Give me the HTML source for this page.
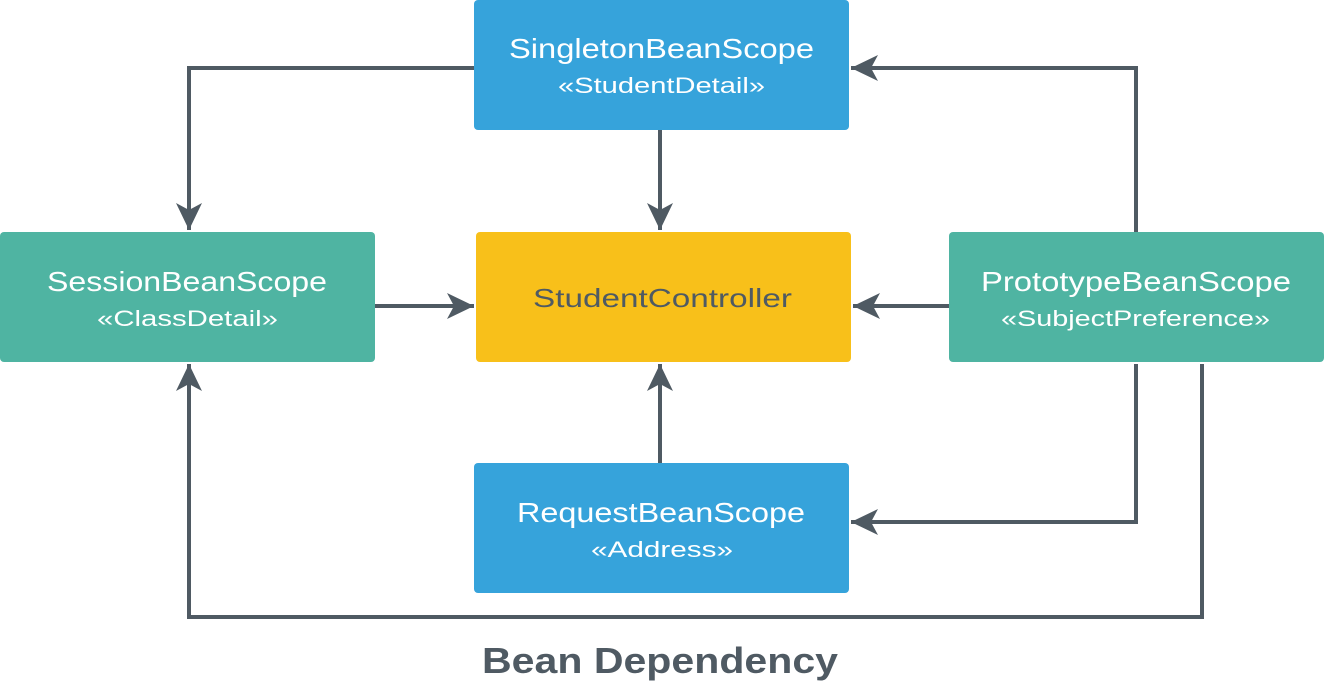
<!DOCTYPE html>
<html><head><meta charset="utf-8"><style>
body{margin:0;width:1324px;height:683px;background:#fff;overflow:hidden}
svg{display:block}
text{font-family:"Liberation Sans",sans-serif}
</style></head><body>
<svg width="1324" height="683" viewBox="0 0 1324 683">
<defs>
<marker id="a" markerUnits="userSpaceOnUse" markerWidth="30" markerHeight="30" refX="27" refY="14" orient="auto">
<path d="M27,14 L0,1 L7,14 L0,27 Z" fill="#4f5a63"/>
</marker>
</defs>
<g fill="none" stroke="#4f5a63" stroke-width="4">
<polyline points="474,68 189,68 189,230" marker-end="url(#a)"/>
<polyline points="660,130 660,230" marker-end="url(#a)"/>
<polyline points="375,306 474,306" marker-end="url(#a)"/>
<polyline points="949,306 853,306" marker-end="url(#a)"/>
<polyline points="660,463 660,364" marker-end="url(#a)"/>
<polyline points="1136,232 1136,68 851,68" marker-end="url(#a)"/>
<polyline points="1136,364 1136,522 851,522" marker-end="url(#a)"/>
<polyline points="1202,364 1202,617 189,617 189,364" marker-end="url(#a)"/>
</g>
<rect x="474" y="0" width="375" height="130" rx="4" fill="#36a3db"/>
<rect x="0" y="232" width="375" height="130" rx="4" fill="#4fb4a2"/>
<rect x="476" y="232" width="375" height="130" rx="4" fill="#f8c01a"/>
<rect x="949" y="232" width="375" height="130" rx="4" fill="#4fb4a2"/>
<rect x="474" y="463" width="375" height="130" rx="4" fill="#36a3db"/>
<g fill="#fff" lengthAdjust="spacingAndGlyphs">
<text x="509" y="58" font-size="28" textLength="305" lengthAdjust="spacingAndGlyphs">SingletonBeanScope</text>
<text x="558" y="93" font-size="22" textLength="207" lengthAdjust="spacingAndGlyphs">«StudentDetail»</text>
<text x="47" y="291" font-size="28" textLength="280" lengthAdjust="spacingAndGlyphs">SessionBeanScope</text>
<text x="97" y="326" font-size="22" textLength="181" lengthAdjust="spacingAndGlyphs">«ClassDetail»</text>
<text x="981" y="291" font-size="28" textLength="310" lengthAdjust="spacingAndGlyphs">PrototypeBeanScope</text>
<text x="1001" y="326" font-size="22" textLength="269" lengthAdjust="spacingAndGlyphs">«SubjectPreference»</text>
<text x="517" y="522" font-size="28" textLength="288" lengthAdjust="spacingAndGlyphs">RequestBeanScope</text>
<text x="591" y="557" font-size="22" textLength="142" lengthAdjust="spacingAndGlyphs">«Address»</text>
</g>
<text x="533" y="307" font-size="26" fill="#4f5a63" textLength="259" lengthAdjust="spacingAndGlyphs">StudentController</text>
<text x="482" y="673" font-size="36" font-weight="bold" fill="#4f5a63" textLength="356" lengthAdjust="spacingAndGlyphs">Bean Dependency</text>
</svg>
</body></html>
